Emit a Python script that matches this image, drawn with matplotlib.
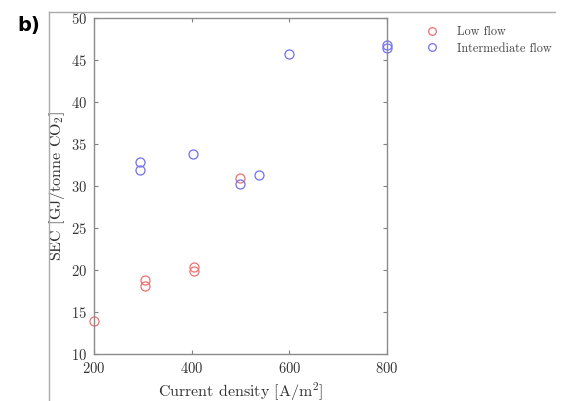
import matplotlib
matplotlib.use("Agg")
import matplotlib.pyplot as plt
from matplotlib.lines import Line2D

plt.rcParams['font.family'] = 'serif'
plt.rcParams['font.serif'] = ['cmr10', 'DejaVu Serif']
plt.rcParams['mathtext.fontset'] = 'cm'
plt.rcParams['axes.formatter.use_mathtext'] = True

low_x = [200, 305, 305, 405, 405, 500]
low_y = [13.9, 18.1, 18.8, 19.9, 20.4, 31.0]
int_x = [294, 294, 403, 500, 537, 600, 800, 800]
int_y = [31.9, 32.8, 33.8, 30.2, 31.3, 45.7, 46.4, 46.8]
xticks = [200, 400, 600, 800]
yticks = [10, 15, 20, 25, 30, 35, 40, 45, 50]

W, H = 564, 401
fig = plt.figure(figsize=(W/100, H/100), dpi=100)
ax = fig.add_axes([94/W, 1-354/H, (387-94)/W, (354-18)/H])

red = '#f07070'
blue = '#7070f0'
ax.plot(low_x, low_y, 'o', mfc='none', mec=red, ms=6.5, mew=0.9, label='Low flow', clip_on=False)
ax.plot(int_x, int_y, 'o', mfc='none', mec=blue, ms=6.5, mew=0.9, label='Intermediate flow', clip_on=False)

ax.set_xlim(200, 800)
ax.set_ylim(10, 50)
ax.set_xticks(xticks)
ax.set_yticks(yticks)
ax.tick_params(direction='in', top=True, right=True, length=3, width=0.8,
               color='#808080', labelcolor='#333333', labelsize=10.5, pad=5)
for s in ax.spines.values():
    s.set_color('#8a8a8a')
    s.set_linewidth(1.0)
ax.set_xlabel('Current density [A/m$^2$]', fontsize=11.5, color='#333333', labelpad=3)
ax.set_ylabel('SEC [GJ/tonne CO$_2$]', fontsize=11.5, color='#333333', labelpad=3)

fig.legend(loc='upper left', bbox_to_anchor=(409/W, 1-15/H), frameon=False,
           fontsize=8.8, handletextpad=1.0, labelspacing=0.35, markerscale=0.85,
           labelcolor='#444444')

# panel frame
fig.add_artist(Line2D([49/W, 49/W], [0, 1-12/H], transform=fig.transFigure, color='#aaaaaa', lw=1.0))
fig.add_artist(Line2D([49/W, 555/W], [1-12/H, 1-12/H], transform=fig.transFigure, color='#aaaaaa', lw=1.0))

fig.text(17/W, 1-25/H, 'b)', fontsize=14, fontweight='bold', family='DejaVu Sans', va='center', ha='left')

fig.savefig('out.png', dpi=100)
